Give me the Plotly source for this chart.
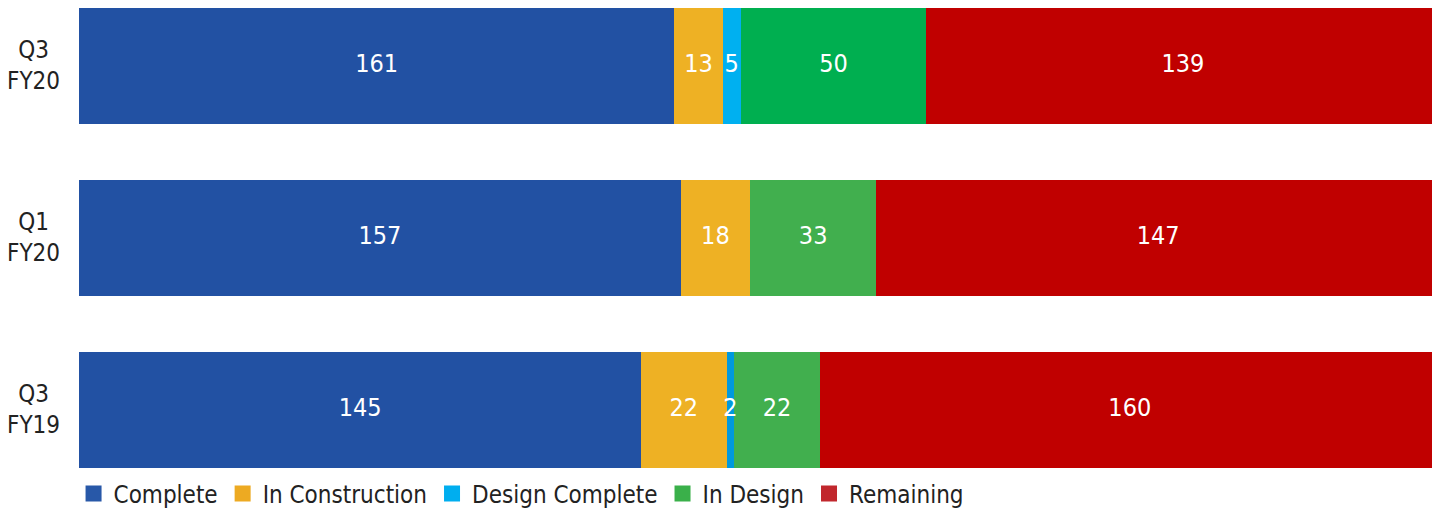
import plotly.graph_objects as go

categories = ["Q3 FY19", "Q1 FY20", "Q3 FY20"]
cat_labels = ["Q3<br>FY19", "Q1<br>FY20", "Q3<br>FY20"]
series_names = ["Complete", "In Construction", "Design Complete", "In Design", "Remaining"]
complete = [145, 157, 161]
in_construction = [22, 18, 13]
design_complete = [2, 0, 5]
in_design = [22, 33, 50]
remaining = [160, 147, 139]

bar_colors = {
    "Complete": ["#2251A3", "#2251A3", "#2251A3"],
    "In Construction": ["#EEB124", "#EEB124", "#EEB124"],
    "Design Complete": ["#0099DD", "#00B0F0", "#00B0F0"],
    "In Design": ["#41AF4E", "#41AF4E", "#00AF50"],
    "Remaining": ["#C00000", "#C00000", "#C00000"],
}
legend_colors = ["#2858A8", "#EDAA22", "#00AEEF", "#3AB04A", "#C1272D"]

FONT = "DejaVu Sans Condensed, Liberation Sans Narrow, sans-serif"
values = [complete, in_construction, design_complete, in_design, remaining]

fig = go.Figure()
for name, vals in zip(series_names, values):
    fig.add_trace(go.Bar(
        y=categories, x=vals, orientation="h", name=name,
        marker=dict(color=bar_colors[name], line=dict(width=0)),
        showlegend=False, hoverinfo="skip",
    ))

# value labels drawn on top of all bars, at the middle of each (percent-normalised) segment
totals = [sum(v[i] for v in values) for i in range(len(categories))]
lab_x, lab_y, lab_t = [], [], []
for i, cat in enumerate(categories):
    cum = 0.0
    for vals in values:
        v = vals[i]
        if v:
            lab_x.append(100.0 * (cum + v / 2.0) / totals[i])
            lab_y.append(cat)
            lab_t.append(str(v))
        cum += v
fig.add_trace(go.Scatter(
    x=lab_x, y=lab_y, text=lab_t, mode="text", textposition="middle center",
    textfont=dict(family=FONT, size=25, color="white"),
    showlegend=False, hoverinfo="skip", cliponaxis=False,
))

for name, col in zip(series_names, legend_colors):
    fig.add_trace(go.Scatter(
        x=[None], y=[None], mode="markers", name=name,
        marker=dict(symbol="square", size=16, color=col),
    ))

for cat, lab in zip(categories, cat_labels):
    fig.add_annotation(
        x=-0.0335, xref="paper", y=cat, yref="y", text=lab, showarrow=False,
        xanchor="center", yanchor="middle", align="center",
        font=dict(family=FONT, size=24, color="#222222"),
    )

fig.update_layout(
    width=1432, height=502,
    barmode="stack", barnorm="percent", bargap=0.33,
    margin=dict(l=71, r=0, t=0, b=40, autoexpand=False),
    plot_bgcolor="white", paper_bgcolor="white",
    xaxis=dict(range=[0, 100], showgrid=False, zeroline=False, showticklabels=False, fixedrange=True),
    yaxis=dict(categoryorder="array", categoryarray=categories, range=[-0.349, 2.337],
               showgrid=False, zeroline=False, showticklabels=False),
    legend=dict(orientation="h", traceorder="normal", x=-0.004, xanchor="left", y=-0.052, yanchor="middle",
                font=dict(family=FONT, size=24, color="#222222"),
                bgcolor="rgba(0,0,0,0)", itemclick=False),
    showlegend=True,
)

fig.write_html("out.html")
